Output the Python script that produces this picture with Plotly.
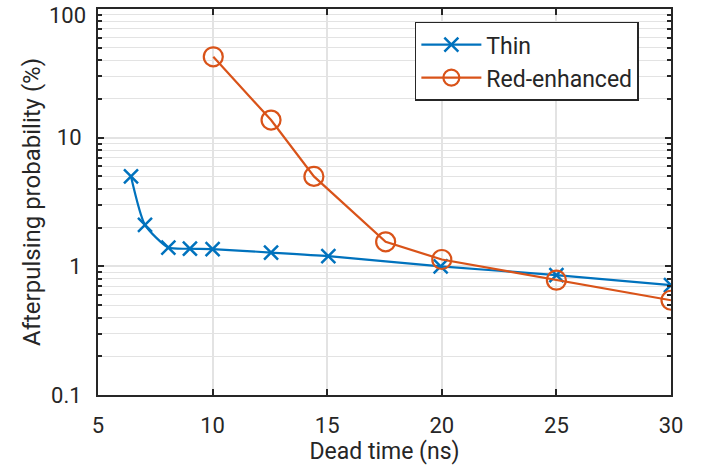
import plotly.graph_objects as go

thin_x = [6.44, 7.05, 8.07, 9.01, 10.0, 12.55, 15.05, 19.95, 25.0, 30.0]
thin_y = [5.0, 2.1, 1.40, 1.37, 1.36, 1.28, 1.20, 1.0, 0.855, 0.714]
red_x = [10.03, 12.55, 14.42, 17.55, 20.0, 25.0, 30.0]
red_y = [42.5, 13.7, 5.0, 1.55, 1.13, 0.78, 0.545]
x_ticks = [5, 10, 15, 20, 25, 30]
y_ticks = [0.1, 1, 10, 100]
y_tick_labels = ["0.1", "1", "10", "100"]

blue = "#0072BD"
orange = "#D95319"
font = "Roboto"
txt = "#262626"

# the top tick label is drawn as an annotation so it can sit just inside the figure
axis_ticktext = y_tick_labels[:-1] + [""]

fig = go.Figure()
fig.add_trace(go.Scatter(
    x=thin_x, y=thin_y, name="Thin", mode="lines+markers",
    line=dict(color=blue, width=2.2, shape="spline", smoothing=0.6),
    marker=dict(symbol="x-thin-open", size=14, line=dict(color=blue, width=2.5), color=blue),
))
fig.add_trace(go.Scatter(
    x=red_x, y=red_y, name="Red-enhanced", mode="lines+markers",
    line=dict(color=orange, width=2.2),
    marker=dict(symbol="circle-open", size=19, line=dict(color=orange, width=2.2), color=orange),
))

fig.add_annotation(
    x=0, xref="paper", y=2, yref="y", text=y_tick_labels[-1], showarrow=False,
    xanchor="right", yanchor="middle", xshift=-10, yshift=-6,
    font=dict(family=font, size=22, color=txt),
)

fig.update_layout(
    width=702, height=472,
    margin=dict(l=98, r=31, t=9, b=77, autoexpand=False),
    paper_bgcolor="white", plot_bgcolor="white",
    font=dict(family=font, size=22, color=txt),
    showlegend=True,
    legend=dict(
        x=0.553, y=0.967, xanchor="left", yanchor="top",
        bgcolor="white", bordercolor=txt, borderwidth=1.5,
        font=dict(size=23, color=txt),
        itemwidth=60,
    ),
)
fig.update_xaxes(
    range=[5, 30], tickvals=x_ticks, ticks="inside", ticklen=6, tickwidth=1.5,
    tickcolor=txt, showline=True, linecolor=txt, linewidth=2, mirror="allticks",
    showgrid=True, gridcolor="#e3e3e3", gridwidth=1.5, zeroline=False,
    automargin=False, ticklabelstandoff=10, ticklabeloverflow="allow",
    title=dict(text="Dead time (ns)", font=dict(size=23), standoff=4),
    tickfont=dict(size=22),
)
fig.update_yaxes(
    type="log", range=[-1, 2], tickvals=y_ticks, ticktext=axis_ticktext,
    ticks="inside", ticklen=6, tickwidth=1.5, tickcolor=txt,
    showline=True, linecolor=txt, linewidth=2, mirror="allticks",
    showgrid=True, gridcolor="#e3e3e3", gridwidth=1.5, zeroline=False,
    automargin=False, ticklabelstandoff=10, ticklabeloverflow="allow",
    minor=dict(dtick="D1", ticks="inside", ticklen=4, tickcolor=txt,
               showgrid=True, gridcolor="#e3e3e3", gridwidth=1.2),
    title=dict(text="Afterpulsing probability (%)", font=dict(size=24), standoff=4),
    tickfont=dict(size=22),
)

fig.write_html("out.html", config={"displayModeBar": False},
               post_script="document.body.style.margin='0';")
